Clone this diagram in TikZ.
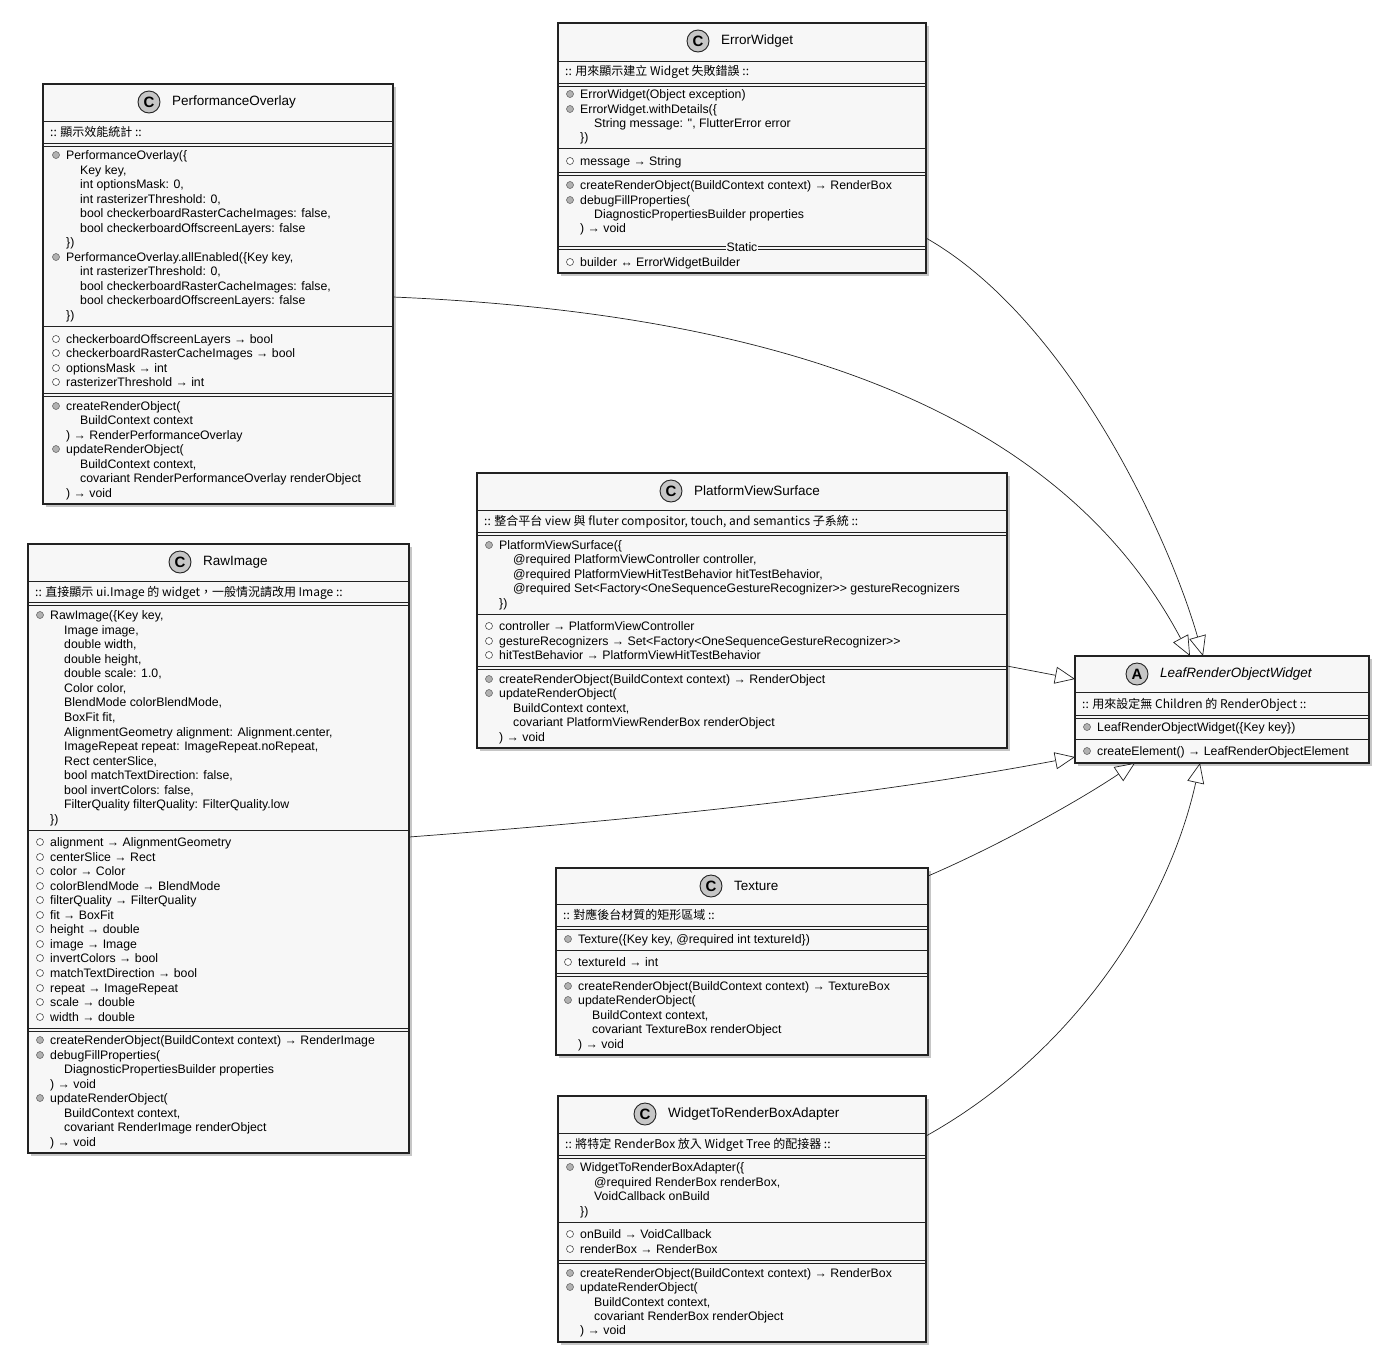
\documentclass[tikz,border=0pt]{standalone}
\usepackage{fontspec}
\setmainfont{Liberation Sans}
\newfontfamily\cjk{Noto Sans CJK TC}
\usetikzlibrary{arrows.meta,shadows,fit}
\definecolor{boxfill}{HTML}{F7F7F7}
\definecolor{edge}{HTML}{222222}
\tikzset{
 classbox/.style={draw=edge,line width=1.3pt,fill=boxfill,inner sep=0pt,drop shadow={opacity=0.45,shadow xshift=3pt,shadow yshift=-3pt}},
 sep/.style={draw=edge,line width=0.8pt},
 txt/.style={anchor=west,inner sep=0pt,text height=10.5pt,text depth=1.5pt,font=\fontsize{12.3}{14}\selectfont},
 ttl/.style={anchor=west,inner sep=0pt,font=\fontsize{13.5}{15}\selectfont},
 circ/.style={circle,draw=edge,line width=0.9pt,fill=gray!45,minimum size=22pt,inner sep=0pt,font=\fontsize{15}{15}\selectfont\bfseries},
 mdot/.style={circle,draw=gray!70!black,fill=gray!60,minimum size=7pt,inner sep=0pt,line width=0.5pt},
 fdot/.style={circle,draw=gray!60!black,fill=white,minimum size=7pt,inner sep=0pt,line width=0.6pt},
 inh/.style={draw=edge,line width=0.7pt,-{Triangle[open,length=20pt,width=17pt,fill=white]}}
}
\newcommand\Ttl[4]{\node[circ] at (#1,#2) {#3}; \node[ttl] at (#1+23,#2) {#4};}
\newcommand\Sg[3]{\draw[sep] (#1,#3)--(#2,#3);}
\newcommand\Db[3]{\draw[sep] (#1,#3)--(#2,#3) (#1,#3+3)--(#2,#3+3);}
\newcommand\Mt[3]{\node[mdot] at (#1,#2) {}; \node[txt] at (#1+10,#2) {#3};}
\newcommand\Fd[3]{\node[fdot] at (#1,#2) {}; \node[txt] at (#1+10,#2) {#3};}
\newcommand\In[3]{\node[txt] at (#1+24,#2) {#3};}
\newcommand\Cl[3]{\node[txt] at (#1+10,#2) {#3};}
\newcommand\Nt[3]{\node[txt,font=\cjk\fontsize{12}{14}\selectfont] at (#1,#2) {#3};}
\begin{document}
\begin{tikzpicture}[x=1pt,y=-1pt]
\useasboundingbox (0,0) rectangle (1400,1371);
% ---------- boxes ----------
\node[classbox,fit={(558,23) (926,273)}] (err) {};
\node[classbox,fit={(43,84) (393,504)}] (perf) {};
\node[classbox,fit={(28,544) (409,1153)}] (raw) {};
\node[classbox,fit={(477,473) (1007,748)}] (pvs) {};
\node[classbox,fit={(1075,656) (1369,763)}] (leaf) {};
\node[classbox,fit={(556,868) (928,1055)}] (tex) {};
\node[classbox,fit={(558,1096) (926,1342)}] (wtr) {};
% ---------- ErrorWidget ----------
\Ttl{698}{41}{C}{ErrorWidget}
\Sg{558}{926}{61}
\Nt{565}{71}{:: 用來顯示建立 Widget 失敗錯誤 ::}
\Db{558}{926}{83}
\Mt{570}{94}{ErrorWidget(Object exception)}
\Mt{570}{109}{ErrorWidget.withDetails(\{}
\In{570}{123}{String message: \textquotesingle\textquotesingle, FlutterError error}
\Cl{570}{137}{\})}
\Sg{558}{926}{148}
\Fd{570}{161}{message → String}
\Db{558}{926}{172}
\Mt{570}{185}{createRenderObject(BuildContext context) → RenderBox}
\Mt{570}{200}{debugFillProperties(}
\In{570}{214}{DiagnosticPropertiesBuilder properties}
\Cl{570}{228}{) → void}
\Db{558}{926}{246}
\node[txt,fill=boxfill,inner xsep=1pt,anchor=center] at (742,247) {Static};
\Fd{570}{262}{builder ↔ ErrorWidgetBuilder}
% ---------- PerformanceOverlay ----------
\Ttl{149}{102}{C}{PerformanceOverlay}
\Sg{43}{393}{121}
\Nt{50}{132}{:: 顯示效能統計 ::}
\Db{43}{393}{143}
\Mt{56}{155}{PerformanceOverlay(\{}
\In{56}{170}{Key key,}
\In{56}{184}{int optionsMask: 0,}
\In{56}{199}{int rasterizerThreshold: 0,}
\In{56}{213}{bool checkerboardRasterCacheImages: false,}
\In{56}{228}{bool checkerboardOffscreenLayers: false}
\Cl{56}{242}{\})}
\Mt{56}{257}{PerformanceOverlay.allEnabled(\{Key key,}
\In{56}{271}{int rasterizerThreshold: 0,}
\In{56}{286}{bool checkerboardRasterCacheImages: false,}
\In{56}{300}{bool checkerboardOffscreenLayers: false}
\Cl{56}{315}{\})}
\Sg{43}{393}{326}
\Fd{56}{339}{checkerboardOffscreenLayers → bool}
\Fd{56}{353}{checkerboardRasterCacheImages → bool}
\Fd{56}{368}{optionsMask → int}
\Fd{56}{382}{rasterizerThreshold → int}
\Db{43}{393}{393}
\Mt{56}{406}{createRenderObject(}
\In{56}{420}{BuildContext context}
\Cl{56}{435}{) → RenderPerformanceOverlay}
\Mt{56}{449}{updateRenderObject(}
\In{56}{464}{BuildContext context,}
\In{56}{478}{covariant RenderPerformanceOverlay renderObject}
\Cl{56}{493}{) → void}
% ---------- RawImage ----------
\Ttl{180}{562}{C}{RawImage}
\Sg{28}{409}{581}
\Nt{35}{592}{:: 直接顯示 ui.Image 的 widget，一般情況請改用 Image ::}
\Db{28}{409}{602}
\Mt{40}{615}{RawImage(\{Key key,}
\In{40}{630}{Image image,}
\In{40}{644}{double width,}
\In{40}{659}{double height,}
\In{40}{673}{double scale: 1.0,}
\In{40}{688}{Color color,}
\In{40}{702}{BlendMode colorBlendMode,}
\In{40}{717}{BoxFit fit,}
\In{40}{732}{AlignmentGeometry alignment: Alignment.center,}
\In{40}{746}{ImageRepeat repeat: ImageRepeat.noRepeat,}
\In{40}{761}{Rect centerSlice,}
\In{40}{775}{bool matchTextDirection: false,}
\In{40}{790}{bool invertColors: false,}
\In{40}{804}{FilterQuality filterQuality: FilterQuality.low}
\Cl{40}{819}{\})}
\Sg{28}{409}{830}
\Fd{40}{842}{alignment → AlignmentGeometry}
\Fd{40}{857}{centerSlice → Rect}
\Fd{40}{871}{color → Color}
\Fd{40}{886}{colorBlendMode → BlendMode}
\Fd{40}{900}{filterQuality → FilterQuality}
\Fd{40}{915}{fit → BoxFit}
\Fd{40}{929}{height → double}
\Fd{40}{944}{image → Image}
\Fd{40}{958}{invertColors → bool}
\Fd{40}{973}{matchTextDirection → bool}
\Fd{40}{988}{repeat → ImageRepeat}
\Fd{40}{1002}{scale → double}
\Fd{40}{1017}{width → double}
\Db{28}{409}{1028}
\Mt{40}{1040}{createRenderObject(BuildContext context) → RenderImage}
\Mt{40}{1055}{debugFillProperties(}
\In{40}{1069}{DiagnosticPropertiesBuilder properties}
\Cl{40}{1084}{) → void}
\Mt{40}{1098}{updateRenderObject(}
\In{40}{1113}{BuildContext context,}
\In{40}{1127}{covariant RenderImage renderObject}
\Cl{40}{1142}{) → void}
% ---------- PlatformViewSurface ----------
\Ttl{671}{491}{C}{PlatformViewSurface}
\Sg{477}{1007}{510}
\Nt{484}{521}{:: 整合平台 view 與 fluter compositor, touch, and semantics 子系統 ::}
\Db{477}{1007}{532}
\Mt{489}{545}{PlatformViewSurface(\{}
\In{489}{559}{@required PlatformViewController controller,}
\In{489}{574}{@required PlatformViewHitTestBehavior hitTestBehavior,}
\In{489}{588}{@required Set<Factory<OneSequenceGestureRecognizer>{}> gestureRecognizers}
\Cl{489}{603}{\})}
\Sg{477}{1007}{614}
\Fd{489}{626}{controller → PlatformViewController}
\Fd{489}{641}{gestureRecognizers → Set<Factory<OneSequenceGestureRecognizer>{}>}
\Fd{489}{655}{hitTestBehavior → PlatformViewHitTestBehavior}
\Db{477}{1007}{666}
\Mt{489}{679}{createRenderObject(BuildContext context) → RenderObject}
\Mt{489}{693}{updateRenderObject(}
\In{489}{708}{BuildContext context,}
\In{489}{722}{covariant PlatformViewRenderBox renderObject}
\Cl{489}{737}{) → void}
% ---------- LeafRenderObjectWidget ----------
\Ttl{1137}{674}{A}{\itshape LeafRenderObjectWidget}
\Sg{1075}{1369}{692}
\Nt{1082}{704}{:: 用來設定無 Children 的 RenderObject ::}
\Db{1075}{1369}{715}
\Mt{1087}{727}{LeafRenderObjectWidget(\{Key key\})}
\Sg{1075}{1369}{739}
\Mt{1087}{751}{createElement() → LeafRenderObjectElement}
% ---------- Texture ----------
\Ttl{711}{886}{C}{Texture}
\Sg{556}{928}{904}
\Nt{563}{915}{:: 對應後台材質的矩形區域 ::}
\Db{556}{928}{926}
\Mt{568}{939}{Texture(\{Key key, @required int textureId\})}
\Sg{556}{928}{950}
\Fd{568}{962}{textureId → int}
\Db{556}{928}{973}
\Mt{568}{986}{createRenderObject(BuildContext context) → TextureBox}
\Mt{568}{1000}{updateRenderObject(}
\In{568}{1015}{BuildContext context,}
\In{568}{1029}{covariant TextureBox renderObject}
\Cl{568}{1044}{) → void}
% ---------- WidgetToRenderBoxAdapter ----------
\Ttl{645}{1114}{C}{WidgetToRenderBoxAdapter}
\Sg{558}{926}{1133}
\Nt{565}{1144}{:: 將特定 RenderBox 放入 Widget Tree 的配接器 ::}
\Db{558}{926}{1155}
\Mt{570}{1167}{WidgetToRenderBoxAdapter(\{}
\In{570}{1182}{@required RenderBox renderBox,}
\In{570}{1196}{VoidCallback onBuild}
\Cl{570}{1211}{\})}
\Sg{558}{926}{1222}
\Fd{570}{1234}{onBuild → VoidCallback}
\Fd{570}{1249}{renderBox → RenderBox}
\Db{558}{926}{1260}
\Mt{570}{1273}{createRenderObject(BuildContext context) → RenderBox}
\Mt{570}{1287}{updateRenderObject(}
\In{570}{1302}{BuildContext context,}
\In{570}{1316}{covariant RenderBox renderObject}
\Cl{570}{1330}{) → void}
% ---------- connectors ----------
\coordinate (eA) at (926,238);
\coordinate (pA) at (393,297);
\coordinate (pvA) at (1007,666);
\coordinate (rA) at (409,837);
\coordinate (tA) at (928,876);
\coordinate (wA) at (926,1136);
\coordinate (lE) at (1203,656);
\coordinate (lP) at (1190,656);
\coordinate (lPV) at (1075,679);
\coordinate (lR) at (1075,757);
\coordinate (lT) at (1135,763);
\coordinate (lW) at (1200,763);
\draw[inh] (eA) .. controls (1070,320) and (1170,540) .. (lE);
\draw[inh] (pA) .. controls (820,315) and (1070,430) .. (lP);
\draw[inh] (pvA) -- (lPV);
\draw[inh] (rA) .. controls (700,815) and (900,790) .. (lR);
\draw[inh] (tA) .. controls (1000,845) and (1080,800) .. (lT);
\draw[inh] (wA) .. controls (1080,1050) and (1170,900) .. (lW);
\end{tikzpicture}
\end{document}
